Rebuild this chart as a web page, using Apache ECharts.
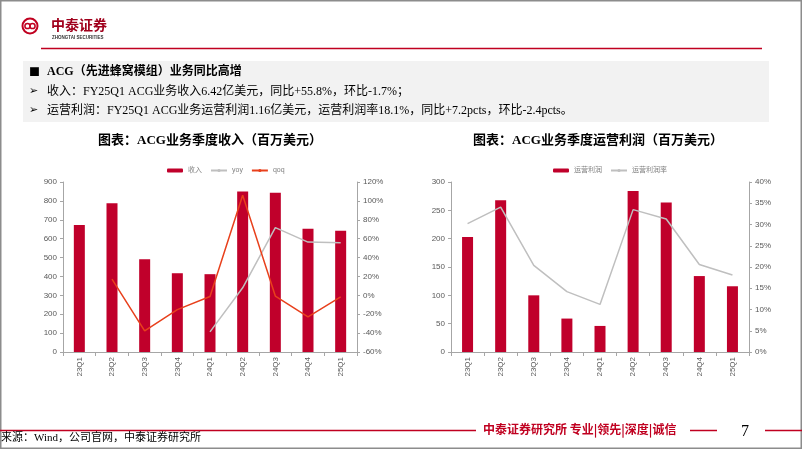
<!DOCTYPE html>
<html><head><meta charset="utf-8">
<script src="https://cdn.jsdelivr.net/npm/echarts@6/dist/echarts.min.js"></script>
<style>html,body{margin:0;padding:0;background:#fff}#c{width:802px;height:451px}</style>
</head><body><div id="c"></div>
<script>
const categories = ['23Q1','23Q2','23Q3','23Q4','24Q1','24Q2','24Q3','24Q4','25Q1'];
const revenue = [673, 787, 491, 417, 412, 850, 843, 652, 642];
const revYoy = [null, null, null, null, -38.7, 8.0, 71.7, 56.4, 55.8];
const revQoq = [null, 17.1, -37.6, -15.1, -1.2, 106.0, -0.8, -22.7, -1.7];
const opProfit = [203, 268, 100, 59, 46, 284, 264, 134, 116];
const opMargin = [30.2, 34.1, 20.4, 14.2, 11.2, 33.5, 31.3, 20.6, 18.1];

const RED = '#c0002b', QOQ = '#e8401c', GRAY = '#bfbfbf';
const serif = '"Liberation Serif","Noto Sans CJK SC",serif';
const sans = '"Liberation Sans","Noto Sans CJK SC",sans-serif';
const axisLbl = {color:'#595959', fontSize:8, fontFamily:sans};
const axLine = {show:true, lineStyle:{color:'#a6a6a6', width:1}};
const tick = {show:true, length:3, lineStyle:{color:'#a6a6a6'}};

function xAx(i){return {type:'category', gridIndex:i, data:categories, boundaryGap:true,
  axisLine:axLine, axisTick:{show:true, length:4, alignWithLabel:false, lineStyle:{color:'#a6a6a6'}},
  axisLabel:Object.assign({rotate:90, margin:5, interval:0}, axisLbl)};}
function yAx(i,min,max,intv,pos,pct){return {type:'value', gridIndex:i, position:pos, min:min, max:max, interval:intv,
  splitLine:{show:false}, axisLine:axLine, axisTick:tick,
  axisLabel:Object.assign({margin:6, formatter: pct? '{value}%':'{value}'}, axisLbl)};}

const chart = echarts.init(document.getElementById('c'), null, {renderer:'canvas'});
chart.setOption({
  animation:false,
  grid:[{left:63, top:182, width:294, height:170},{left:451, top:182, width:298, height:170}],
  xAxis:[xAx(0), xAx(1)],
  yAxis:[yAx(0,0,900,100,'left',false), yAx(0,-60,120,20,'right',true),
         yAx(1,0,300,50,'left',false), yAx(1,0,40,5,'right',true)],
  legend:[
    {data:['收入','yoy','qoq'], left:162, top:162, itemWidth:16, itemHeight:4, itemGap:8,
     textStyle:{fontSize:7, color:'#7f7f7f', fontFamily:sans}},
    {data:['运营利润','运营利润率'], left:548, top:162, itemWidth:16, itemHeight:4, itemGap:8,
     textStyle:{fontSize:7, color:'#7f7f7f', fontFamily:sans}}
  ],
  series:[
    {name:'收入', type:'bar', xAxisIndex:0, yAxisIndex:0, data:revenue, barWidth:11, itemStyle:{color:RED}},
    {name:'yoy', type:'line', xAxisIndex:0, yAxisIndex:1, data:revYoy, symbol:'none', lineStyle:{color:GRAY, width:1.5}, itemStyle:{color:GRAY}},
    {name:'qoq', type:'line', xAxisIndex:0, yAxisIndex:1, data:revQoq, symbol:'none', lineStyle:{color:QOQ, width:1.5}, itemStyle:{color:QOQ}},
    {name:'运营利润', type:'bar', xAxisIndex:1, yAxisIndex:2, data:opProfit, barWidth:11, itemStyle:{color:RED}},
    {name:'运营利润率', type:'line', xAxisIndex:1, yAxisIndex:3, data:opMargin, symbol:'none', lineStyle:{color:GRAY, width:1.5}, itemStyle:{color:GRAY}}
  ],
  graphic:[
    {type:'rect', shape:{x:0.75, y:0.75, width:800.5, height:447.5}, style:{fill:'none', stroke:'#8c8c8c', lineWidth:1.5}, silent:true},
    // logo
    {type:'circle', shape:{cx:30, cy:26, r:7.5}, style:{fill:'none', stroke:'#c00020', lineWidth:2}},
    {type:'circle', shape:{cx:27.5, cy:26, r:2.6}, style:{fill:'none', stroke:'#c00020', lineWidth:1.5}},
    {type:'circle', shape:{cx:32.5, cy:26, r:2.6}, style:{fill:'none', stroke:'#c00020', lineWidth:1.5}},
    {type:'text', left:51, top:18, style:{text:'中泰证券', font:'bold 14px "Noto Sans CJK SC"', fill:'#a0001c'}},
    {type:'text', left:52, top:35, style:{text:'ZHONGTAI SECURITIES', font:'bold 4.5px "Liberation Sans"', fill:'#333'}},
    {type:'line', shape:{x1:41, y1:48.5, x2:762, y2:48.5}, style:{stroke:'#c00020', lineWidth:1.5}},
    // header box
    {type:'rect', shape:{x:23, y:61, width:746, height:61}, style:{fill:'#f2f2f2'}},
    {type:'text', left:29, top:66, style:{text:'■', font:'11px "Noto Sans CJK SC"', fill:'#000'}},
    {type:'text', left:47, top:66, style:{text:'ACG（先进蜂窝模组）业务同比高增', font:'bold 12px '+serif, fill:'#000'}},
    {type:'text', left:29, top:86, style:{text:'➢', font:'11px "DejaVu Sans"', fill:'#000'}},
    {type:'text', left:47, top:86, style:{text:'收入：FY25Q1 ACG业务收入6.42亿美元，同比+55.8%，环比-1.7%；', font:'12px '+serif, fill:'#000'}},
    {type:'text', left:29, top:105, style:{text:'➢', font:'11px "DejaVu Sans"', fill:'#000'}},
    {type:'text', left:47, top:105, style:{text:'运营利润：FY25Q1 ACG业务运营利润1.16亿美元，运营利润率18.1%，同比+7.2pcts，环比-2.4pcts。', font:'12px '+serif, fill:'#000'}},
    // chart titles
    {type:'text', x:210, y:141, style:{text:'图表：ACG业务季度收入（百万美元）', font:'bold 13px '+serif, fill:'#000', textAlign:'center', textVerticalAlign:'middle'}},
    {type:'text', x:598, y:141, style:{text:'图表：ACG业务季度运营利润（百万美元）', font:'bold 13px '+serif, fill:'#000', textAlign:'center', textVerticalAlign:'middle'}},
    // footer
    {type:'line', shape:{x1:0, y1:430.5, x2:476, y2:430.5}, style:{stroke:'#c00020', lineWidth:1.5}},
    {type:'text', left:483, top:423, style:{text:'中泰证券研究所 专业|领先|深度|诚信', font:'bold 12px "Noto Sans CJK SC"', fill:'#c00020'}},
    {type:'line', shape:{x1:690, y1:430.5, x2:717, y2:430.5}, style:{stroke:'#c00020', lineWidth:1.5}},
    {type:'text', x:745, y:432, style:{text:'7', font:'16px "Liberation Serif"', fill:'#000', textAlign:'center', textVerticalAlign:'middle'}},
    {type:'line', shape:{x1:765, y1:430.5, x2:802, y2:430.5}, style:{stroke:'#c00020', lineWidth:1.5}},
    {type:'text', left:1, top:433, style:{text:'来源：Wind，公司官网，中泰证券研究所', font:'11px '+serif, fill:'#000'}}
  ]
});
</script></body></html>
